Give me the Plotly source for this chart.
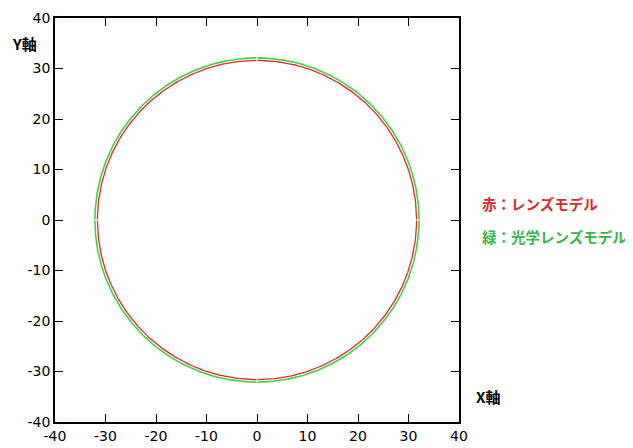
import numpy as np
import plotly.graph_objects as go

# Data
red_radius = 31.6     # 赤：レンズモデル
green_radius = 32.1   # 緑：光学レンズモデル
x_ticks = [-40, -30, -20, -10, 0, 10, 20, 30, 40]
y_ticks = [-40, -30, -20, -10, 0, 10, 20, 30, 40]
legend_red = "赤：レンズモデル"
legend_green = "緑：光学レンズモデル"


def circle_xy(r, n=300, gap=0.2):
    xs, ys = [], []
    for q in range(4):
        a0 = np.deg2rad(q * 90 + gap)
        a1 = np.deg2rad((q + 1) * 90 - gap)
        t = np.linspace(a0, a1, n)
        xs += list(r * np.cos(t)) + [None]
        ys += list(r * np.sin(t)) + [None]
    return xs, ys


fig = go.Figure()
gx, gy = circle_xy(green_radius)
rx, ry = circle_xy(red_radius)
fig.add_trace(go.Scatter(x=gx, y=gy, mode="lines",
                         line=dict(color="#44d044", width=1.6), hoverinfo="skip"))
fig.add_trace(go.Scatter(x=rx, y=ry, mode="lines",
                         line=dict(color="#e02a2a", width=1.3), hoverinfo="skip"))

axis_common = dict(
    showgrid=False, zeroline=False, showline=True, linecolor="black", linewidth=1.5,
    mirror="ticks", ticks="inside", ticklen=8, tickcolor="black", tickwidth=1,
    tickfont=dict(family="DejaVu Sans", size=14, color="black"), automargin=False,
)
fig.update_xaxes(range=[-40, 40], tickvals=x_ticks, ticktext=[str(v) for v in x_ticks], **axis_common)
fig.update_yaxes(range=[-40, 40], tickvals=y_ticks, ticktext=[str(v) for v in y_ticks], **axis_common)

cjk = "Noto Sans CJK JP"
fig.add_annotation(text="<b>Y軸</b>", xref="paper", yref="paper", x=-0.040, y=0.936,
                   xanchor="right", yanchor="middle", showarrow=False,
                   font=dict(family=cjk, size=15, color="black"))
fig.add_annotation(text="<b>X軸</b>", xref="paper", yref="paper", x=1.036, y=0.062,
                   xanchor="left", yanchor="middle", showarrow=False,
                   font=dict(family=cjk, size=15, color="black"))
fig.add_annotation(text="<b>" + legend_red + "</b>", xref="paper", yref="paper", x=1.052, y=0.542,
                   xanchor="left", yanchor="middle", showarrow=False,
                   font=dict(family=cjk, size=14.5, color="#d22c2c"))
fig.add_annotation(text="<b>" + legend_green + "</b>", xref="paper", yref="paper", x=1.052, y=0.458,
                   xanchor="left", yanchor="middle", showarrow=False,
                   font=dict(family=cjk, size=14.5, color="#34b648"))

fig.update_layout(
    width=625, height=440, showlegend=False,
    margin=dict(l=47, r=174, t=10, b=26, autoexpand=False),
    plot_bgcolor="white", paper_bgcolor="white",
)
fig.write_html("out.html")
